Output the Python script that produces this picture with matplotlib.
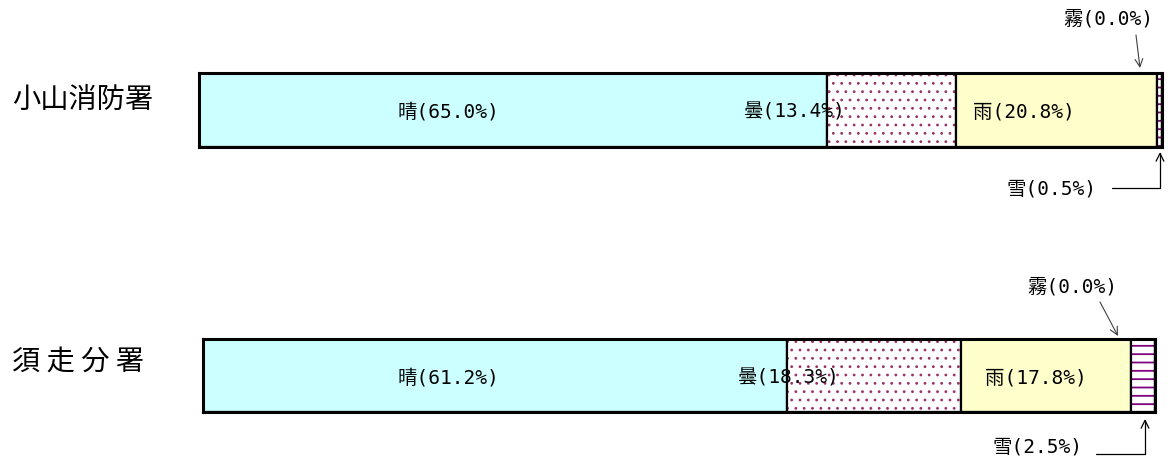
import matplotlib.pyplot as plt

plt.rcParams['font.family'] = ['DejaVu Sans Mono', 'Noto Sans CJK JP']
plt.rcParams['hatch.linewidth'] = 0.8

# weather share (%) per station
weather = ['晴', '曇', '雨', '雪', '霧']
oyama = [65.0, 13.4, 20.8, 0.5, 0.0]
subashiri = [61.2, 18.3, 17.8, 2.5, 0.0]
stations = ['小山消防署', '須 走 分 署']

face = ['#CCFFFF', 'white', '#FFFFCC', 'white', 'white']
hatches = [None, '..', None, '--', None]
hatch_col = ['none', '#993366', 'none', '#800080', 'none']
hatch_lw = [0.8, 0.8, 0.8, 1.3, 0.8]

W, H = 1168, 457
fig = plt.figure(figsize=(W / 100, H / 100), dpi=100)

# pixel boxes of the two bars (x0, y0, x1, y1), top-left origin
boxes = [(199, 73, 1162, 147), (203, 339, 1155, 412)]
name_y = [100, 362]
# in-bar label x centres (晴, 曇, 雨)
inner_x = [[448, 795, 1024], [448, 789, 1036]]
# fog: text centre, arrow start, arrow tip
fog_pos = [((1108, 19), (1136, 35), (1140, 68)),
           ((1072, 287), (1100, 302), (1118, 336))]
# snow: text centre, line start, arrow tip
snow_pos = [((1051, 189), (1112, 188), (1160, 152)),
            ((1037, 447), (1096, 454), (1145, 419))]

for k, vals in enumerate([oyama, subashiri]):
    x0, y0, x1, y1 = boxes[k]
    ax = fig.add_axes([x0 / W, 1 - y1 / H, (x1 - x0) / W, (y1 - y0) / H])

    def fr(px, py):
        return ((px - x0) / (x1 - x0), (y1 - py) / (y1 - y0))

    left = 0
    for i, v in enumerate(vals):
        with plt.rc_context({'hatch.linewidth': hatch_lw[i]}):
            bars = ax.barh(0, v, left=left, height=1, color=face[i],
                           hatch=hatches[i], edgecolor=hatch_col[i],
                           linewidth=0)
        for p in bars:
            if hasattr(p, 'set_hatch_linewidth'):
                p.set_hatch_linewidth(hatch_lw[i])
        ax.barh(0, v, left=left, height=1, fill=False, edgecolor='black',
                linewidth=1.6)
        left += v
    ax.set_xlim(0, sum(vals))
    ax.set_ylim(-0.5, 0.5)
    ax.set_xticks([])
    ax.set_yticks([])
    for s in ax.spines.values():
        s.set_linewidth(2.2)

    for i in range(3):
        ax.text(*fr(inner_x[k][i], (y0 + y1) / 2 + 2),
                f'{weather[i]}({vals[i]:.1f}%)', transform=ax.transAxes,
                ha='center', va='center', fontsize=14, zorder=5)

    t, a, b = fog_pos[k]
    ax.text(*fr(*t), f'{weather[4]}({vals[4]:.1f}%)', transform=ax.transAxes,
            ha='center', va='center', fontsize=14, clip_on=False)
    ax.annotate('', xy=fr(*b), xytext=fr(*a), xycoords='axes fraction',
                textcoords='axes fraction',
                arrowprops=dict(arrowstyle='->', color='#404040', lw=0.8,
                                shrinkA=0, shrinkB=0, mutation_scale=14))

    t, a, b = snow_pos[k]
    ax.text(*fr(*t), f'{weather[3]}({vals[3]:.1f}%)', transform=ax.transAxes,
            ha='center', va='center', fontsize=14, clip_on=False)
    ax.annotate('', xy=fr(*b), xytext=fr(*a), xycoords='axes fraction',
                textcoords='axes fraction',
                arrowprops=dict(arrowstyle='->', color='black', lw=0.9,
                                shrinkA=0, shrinkB=0, mutation_scale=14,
                                connectionstyle='angle,angleA=0,angleB=90,rad=0'))

    fig.text(12 / W, 1 - name_y[k] / H, stations[k], ha='left', va='center',
             fontsize=20.3, family=['Noto Sans CJK JP', 'DejaVu Sans'])

fig.savefig('out.png', dpi=100)
